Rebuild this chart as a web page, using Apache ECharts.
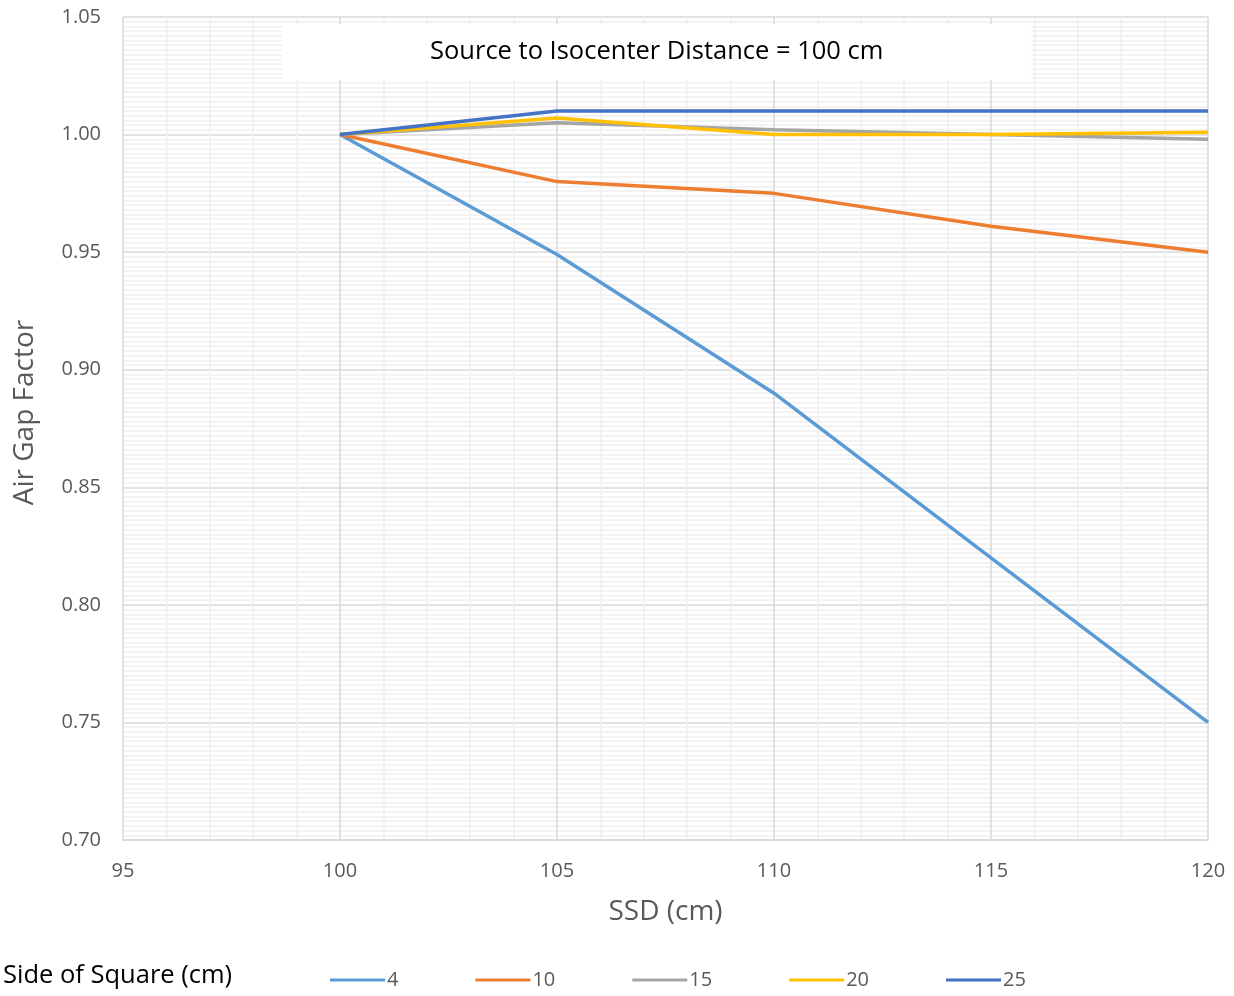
<!DOCTYPE html>
<html>
<head>
<meta charset="utf-8">
<script src="https://cdn.jsdelivr.net/npm/echarts@6/dist/echarts.min.js"></script>
<style>
html,body{margin:0;padding:0;background:#fff;}
#chart{width:1234px;height:996px;}
</style>
</head>
<body>
<div id="chart"></div>
<script>
const ssd = [100, 105, 110, 115, 120];
const side4 = [1.000, 0.949, 0.890, 0.820, 0.750];
const side10 = [1.000, 0.980, 0.975, 0.961, 0.950];
const side15 = [1.000, 1.005, 1.002, 1.000, 0.998];
const side20 = [1.000, 1.007, 1.000, 1.000, 1.001];
const side25 = [1.000, 1.010, 1.010, 1.010, 1.010];
const seriesNames = ['4', '10', '15', '20', '25'];
const seriesValues = [side4, side10, side15, side20, side25];
const colors = ['#5B9BD5', '#ED7D31', '#A5A5A5', '#FFC000', '#4472C4'];

const FONT = '"Open Sans", sans-serif';
const chart = echarts.init(document.getElementById('chart'));
chart.setOption({
  animation: false,
  color: colors,
  textStyle: { fontFamily: FONT },
  title: [
    {
      text: 'Source to Isocenter Distance = 100 cm',
      left: 282, top: 24,
      backgroundColor: '#ffffff',
      padding: [13, 148, 13, 148],
      textStyle: { fontFamily: FONT, fontSize: 25.5, fontWeight: 'normal', color: '#000000', lineHeight: 30 }
    },
    {
      text: 'Side of Square (cm)',
      left: 3, top: 961,
      padding: 0,
      textStyle: { fontFamily: FONT, fontSize: 25.5, fontWeight: 'normal', color: '#000000', lineHeight: 30 }
    }
  ],
  legend: {
    left: 325, top: 965,
    itemWidth: 55, itemHeight: 3,
    itemGap: 77,
    icon: 'rect',
    textStyle: { fontFamily: FONT, fontSize: 20, color: '#595959', padding: [0, 0, 0, -3] },
    data: seriesNames
  },
  grid: { left: 123, right: 26, top: 17, bottom: 156, containLabel: false },
  xAxis: {
    type: 'value', min: 95, max: 120, interval: 5,
    name: 'SSD (cm)', nameLocation: 'middle', nameGap: 58,
    nameTextStyle: { fontFamily: FONT, fontSize: 28, color: '#595959' },
    axisLine: { show: true, lineStyle: { color: '#d9d9d9', width: 1.5 } },
    axisTick: { show: false },
    axisLabel: { margin: 21, fontSize: 20, color: '#595959', fontFamily: FONT },
    splitLine: { show: true, lineStyle: { color: '#d9d9d9', width: 1.5 } },
    minorTick: { show: false, splitNumber: 5 },
    minorSplitLine: { show: true, lineStyle: { color: '#efefef', width: 1.5 } }
  },
  yAxis: {
    type: 'value', min: 0.70, max: 1.05, interval: 0.05,
    name: 'Air Gap Factor', nameLocation: 'middle', nameGap: 84,
    nameTextStyle: { fontFamily: FONT, fontSize: 28, color: '#595959', padding: [0, 0, 0, 32] },
    axisLine: { show: false },
    axisTick: { show: false },
    axisLabel: { margin: 22, fontSize: 20, color: '#595959', fontFamily: FONT,
      formatter: v => v.toFixed(2) },
    splitLine: { show: true, lineStyle: { color: '#d9d9d9', width: 1.5 } },
    minorTick: { show: false, splitNumber: 25 },
    minorSplitLine: { show: true, lineStyle: { color: '#f0f0f0', width: 1.5 } }
  },
  series: seriesNames.map((n, i) => ({
    name: n,
    type: 'line',
    data: ssd.map((x, j) => [x, seriesValues[i][j]]),
    showSymbol: false,
    symbol: 'none',
    lineStyle: { width: 3.5, color: colors[i] },
    itemStyle: { color: colors[i] },
    z: 2 + i
  }))
});
</script>
</body>
</html>
